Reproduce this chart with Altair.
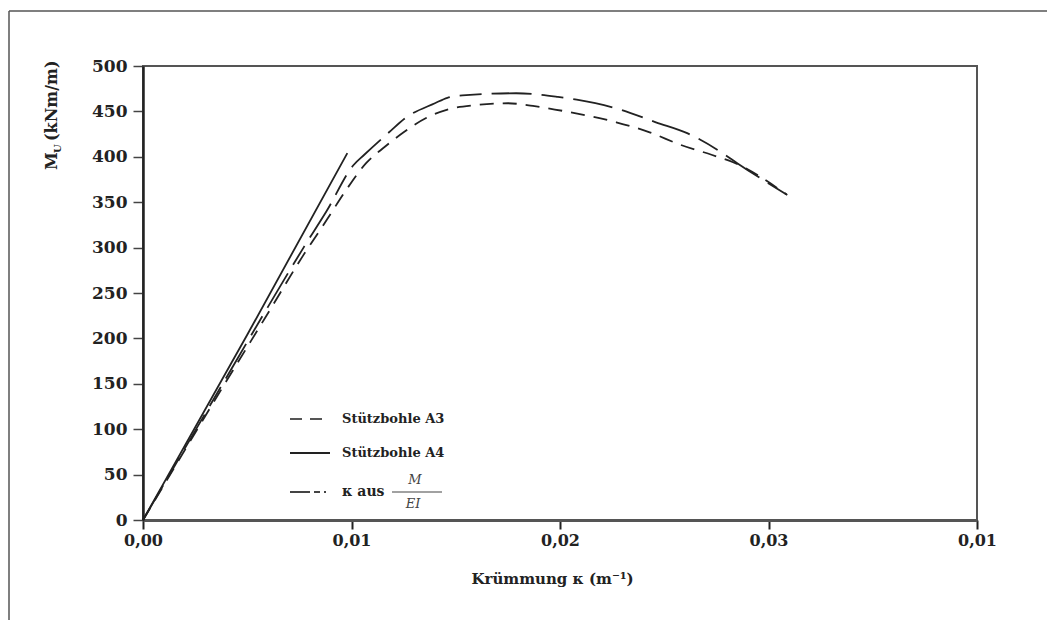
import altair as alt
import pandas as pd

# ---- data ----
x_a3 = [0.0, 0.0040, 0.0060, 0.0077, 0.0088, 0.0097, 0.0107, 0.0116, 0.0125, 0.0136, 0.0146,
        0.0160, 0.0175, 0.0187, 0.0205, 0.0227, 0.0243, 0.0258, 0.0273, 0.0283, 0.0309]
y_a3 = [0, 153, 228, 292, 330, 362, 393, 411, 427, 443, 452,
        457, 459, 456, 449, 438, 427, 413, 402, 394, 358]

x_a4 = [0.0, 0.0050, 0.0098]
y_a4 = [0, 204, 404]

x_mei = [0.0, 0.0040, 0.0060, 0.0077, 0.0088, 0.0101, 0.0106, 0.0118, 0.0126, 0.0140, 0.0146,
         0.0155, 0.0179, 0.0199, 0.0208, 0.0229, 0.0246, 0.0261, 0.0278, 0.0285, 0.0309]
y_mei = [0, 157, 235, 300, 340, 391, 402, 427, 443, 459, 465,
         468, 470, 466, 463, 452, 438, 426, 404, 393, 358]

x_ticks = [0.0, 0.01, 0.02, 0.03, 0.04]
x_tick_labels = ["0,00", "0,01", "0,02", "0,03", "0,01"]
y_ticks = [0, 50, 100, 150, 200, 250, 300, 350, 400, 450, 500]

legend_labels = ["Stützbohle A3", "Stützbohle A4", "κ aus"]
frac_num = "M"
frac_den = "EI"
x_title = "Krümmung κ (m⁻¹)"
y_title_main = "M"
y_title_sub = "U"
y_title_unit = "(kNm/m)"

FONT = "DejaVu Serif"
INK = "#222222"
DASH_A3 = [14, 9]
DASH_MEI = [40, 10, 22, 10]

df_a3 = pd.DataFrame({"k": x_a3, "m": y_a3})
df_a4 = pd.DataFrame({"k": x_a4, "m": y_a4})
df_mei = pd.DataFrame({"k": x_mei, "m": y_mei})

xscale = alt.Scale(domain=[0, 0.04], nice=False, zero=False)
yscale = alt.Scale(domain=[0, 500], nice=False)

label_expr = "[" + ",".join("'%s'" % l for l in x_tick_labels) + "][round(datum.value*100)]"

xaxis = alt.Axis(values=x_ticks, labelExpr=label_expr, title=x_title, labelFlush=False,
                 labelFont=FONT, labelFontWeight="bold", labelFontSize=16, labelColor=INK,
                 titleFont=FONT, titleFontWeight="bold", titleFontSize=15, titleColor=INK,
                 titleX=409, titleY=58, titleBaseline="middle", titleAnchor="start", titleAlign="center",
                 domainColor="#555555", domainWidth=3, tickColor=INK, tickWidth=2, tickSize=9,
                 labelPadding=3, grid=False)
yaxis = alt.Axis(values=y_ticks, title=None, labelFlush=False,
                 labelFont=FONT, labelFontWeight="bold", labelFontSize=17, labelColor=INK,
                 domainColor=INK, domainWidth=2.5, tickColor="#444444", tickWidth=1.5, tickSize=10,
                 labelPadding=6, grid=False)


def curve(df, dash=None):
    kw = dict(interpolate="monotone", strokeWidth=1.8, color=INK)
    if dash is not None:
        kw["strokeDash"] = dash
    return alt.Chart(df).mark_line(**kw).encode(
        x=alt.X("k:Q", scale=xscale, axis=xaxis),
        y=alt.Y("m:Q", scale=yscale, axis=yaxis))


line_a4 = curve(df_a4)
line_a3 = curve(df_a3, DASH_A3)
line_mei = curve(df_mei, DASH_MEI)


def txt(s, x, y, size, angle=0, align="left", baseline="middle", weight="bold", style="normal", color=INK):
    kw = dict(font=FONT, fontSize=size, fontWeight=weight, fontStyle=style, color=color,
              align=align, baseline=baseline)
    if angle:
        kw["angle"] = angle
    return alt.Chart(pd.DataFrame({"t": [s]})).mark_text(**kw).encode(
        x=alt.value(x), y=alt.value(y), text="t:N")


def hrule(x1, x2, y, width=1.8, dash=None, color=INK):
    kw = dict(strokeWidth=width, color=color)
    if dash is not None:
        kw["strokeDash"] = dash
    return alt.Chart(pd.DataFrame({"a": [0]})).mark_rule(**kw).encode(
        x=alt.value(x1), x2=alt.value(x2), y=alt.value(y))


# y title (rotated, with subscript)
yt1 = txt(y_title_main, -86, 104, 16, angle=270, baseline="alphabetic")
yt2 = txt(y_title_sub, -82, 87, 10, angle=270, baseline="alphabetic")
yt3 = txt(y_title_unit, -86, 75, 16, angle=270, baseline="alphabetic")

# legend
rows = [353, 387, 426]
leg = [
    hrule(147, 187, rows[0], dash=[12, 8], color="#555555"),
    hrule(147, 187, rows[1]),
    hrule(147, 187, rows[2], dash=[20, 4, 6, 4, 2, 4], color="#444444"),
    txt(legend_labels[0], 199, rows[0], 13),
    txt(legend_labels[1], 199, rows[1], 13),
    txt(legend_labels[2], 199, rows[2], 14),
    hrule(249, 299, rows[2], width=1.2, color="#444444"),
    txt(frac_num, 272, rows[2] - 12, 13, align="center", weight="normal", style="italic", color="#444444"),
    txt(frac_den, 270, rows[2] + 12, 13, align="center", weight="normal", style="italic", color="#444444"),
]

# outer frame of the figure (left and top edges)
frame_left = alt.Chart(pd.DataFrame({"a": [0]})).mark_rule(strokeWidth=1.5, color="#555555").encode(
    x=alt.value(-134), y=alt.value(-55), y2=alt.value(700))
frame_top = alt.Chart(pd.DataFrame({"a": [0]})).mark_rule(strokeWidth=1.5, color="#555555").encode(
    x=alt.value(-134), x2=alt.value(1000), y=alt.value(-55))

chart = alt.layer(line_a4, line_a3, line_mei, yt1, yt2, yt3, frame_left, frame_top, *leg).properties(
    width=834, height=454,
    autosize=alt.AutoSizeParams(type="none"),
    padding={"left": 135, "top": 58, "right": 70, "bottom": 100},
).configure_view(stroke="#555555", strokeWidth=2)

chart.save("out.html", embed_options={"renderer": "svg", "actions": False})
